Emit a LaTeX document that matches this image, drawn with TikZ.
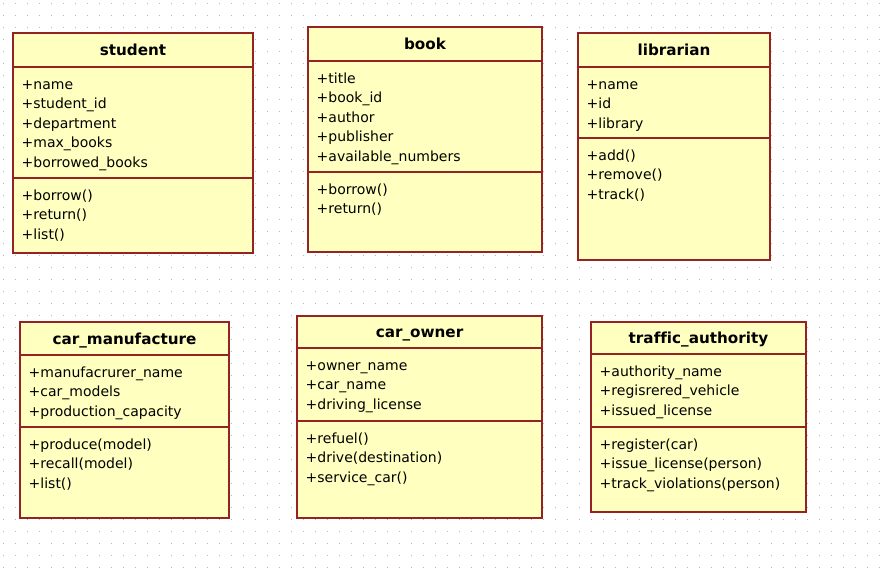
\documentclass[tikz,border=0pt]{standalone}
\usepackage{fontspec}
\setmainfont[Ligatures={NoCommon}]{DejaVu Sans}
\definecolor{boxfill}{RGB}{255,255,192}
\definecolor{boxline}{RGB}{150,35,35}
\definecolor{dotgray}{RGB}{185,185,185}
\tikzset{
  classbox/.style={draw=boxline, fill=boxfill, line width=1.3pt, outer sep=0pt, inner sep=0pt, rectangle},
  sepline/.style={draw=boxline, line width=1.3pt},
  titletext/.style={font=\fontsize{15.2}{18}\selectfont\bfseries, anchor=base, inner sep=0pt},
  membertext/.style={font=\fontsize{14}{17}\selectfont, anchor=base west, inner sep=0pt},
  griddots/.style={draw=dotgray, line width=1pt, dash pattern=on 1pt off 11pt}
}
\newcommand{\umlbox}[8]{%
  \node[classbox, anchor=north west, minimum width={(#4-#2)*1pt}, minimum height={(#5-#3)*1pt}] (#1) at (#2,#3) {};
  \draw[sepline] (#1.west |- 0,#6) -- (#1.east |- 0,#6);
  \draw[sepline] (#1.west |- 0,#7) -- (#1.east |- 0,#7);
  \node[titletext] (#1-title) at ({(#2+#4)/2}, {(#3+#6)/2+5.5}) {#8};
}
\newcommand{\members}[4]{%
  \foreach \t [count=\i] in {#4} {
    \node[membertext] (#1-\i) at (#2, {#3+(\i-1)*19.5}) {\t};
  }
}
\begin{document}
\begin{tikzpicture}[x=1pt, y=-1pt]
\useasboundingbox (0,0) rectangle (880,579);
\fill[white] (0,0) rectangle (880,579);
\foreach \j in {0,...,47} {
  \draw[griddots] (2.5, {3+12*\j}) -- (880, {3+12*\j});
}
% student
\umlbox{student}{13}{33}{253}{253}{67}{178}{student}
\members{student-a}{21.5}{89}{+name,+student\_id,+department,+max\_books,+borrowed\_books}
\members{student-m}{21.5}{200}{+borrow(),+return(),+list()}
% book
\umlbox{book}{308}{27}{542}{252}{61}{172}{book}
\members{book-a}{316.5}{83}{+title,+book\_id,+author,+publisher,+available\_numbers}
\members{book-m}{316.5}{194}{+borrow(),+return()}
% librarian
\umlbox{librarian}{578}{33}{770}{260}{67}{138}{librarian}
\members{librarian-a}{586.5}{89}{+name,+id,+library}
\members{librarian-m}{586.5}{160}{+add(),+remove(),+track()}
% car_manufacture
\umlbox{carman}{20}{322}{229}{518}{355}{427}{car\_manufacture}
\members{carman-a}{28.5}{377}{+manufacrurer\_name,+car\_models,+production\_capacity}
\members{carman-m}{28.5}{449}{+produce(model),+recall(model),+list()}
% car_owner
\umlbox{carowner}{297}{316}{542}{518}{348}{421}{car\_owner}
\members{carowner-a}{305.5}{370}{+owner\_name,+car\_name,+driving\_license}
\members{carowner-m}{305.5}{443}{+refuel(),+drive(destination),+service\_car()}
% traffic_authority
\umlbox{traffic}{591}{322}{806}{512}{354}{427}{traffic\_authority}
\members{traffic-a}{599.5}{376}{+authority\_name,+regisrered\_vehicle,+issued\_license}
\members{traffic-m}{599.5}{449}{+register(car),+issue\_license(person),+track\_violations(person)}
\end{tikzpicture}
\end{document}
